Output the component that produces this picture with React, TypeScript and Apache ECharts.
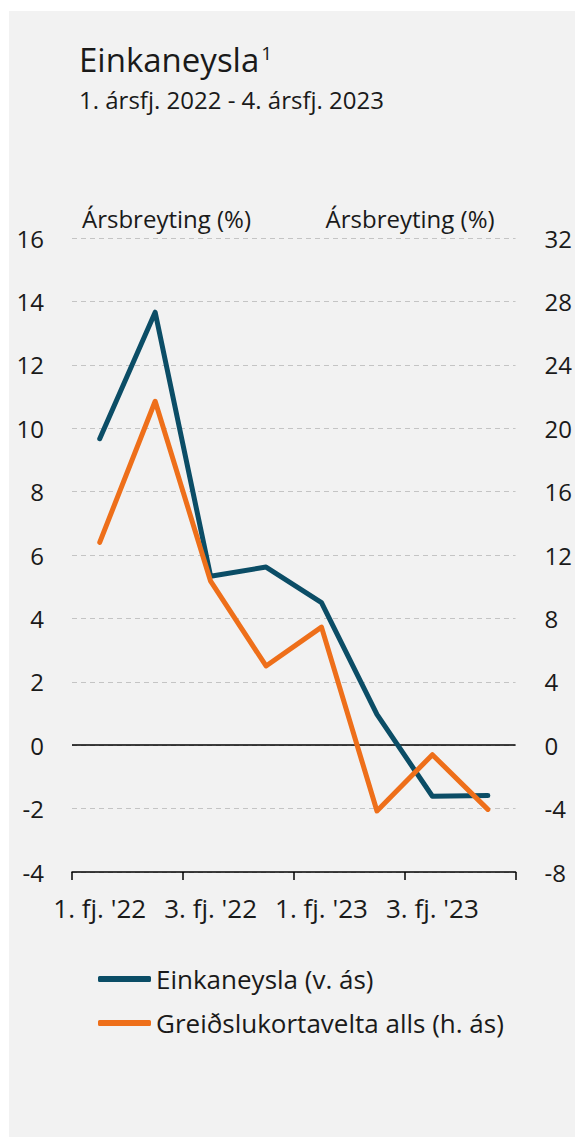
import React, { useEffect, useRef } from "react";
import * as echarts from "echarts";

const categories = ["1. fj. '22", "2. fj. '22", "3. fj. '22", "4. fj. '22", "1. fj. '23", "2. fj. '23", "3. fj. '23", "4. fj. '23"];
const einkaneysla = [9.67, 13.66, 5.33, 5.62, 4.5, 0.97, -1.61, -1.59];
const kortavelta = [12.8, 21.7, 10.35, 5.0, 7.45, -4.15, -0.6, -4.05];
const seriesNames = ["Einkaneysla (v. ás)", "Greiðslukortavelta alls (h. ás)"];
const axisName = "Ársbreyting (%)";
const titleText = "Einkaneysla";
const subtitleText = "1. ársfj. 2022 - 4. ársfj. 2023";

const FONT = "Open Sans";
const TXT = "#1a1a1a";
const DARK = "#0b4d66";
const ORANGE = "#ee6f1a";

export default function App() {
  const ref = useRef<HTMLDivElement>(null);
  useEffect(() => {
    if (!ref.current) return;
    const chart = echarts.init(ref.current, undefined, { renderer: "svg" });
    chart.setOption({
      animation: false,
      backgroundColor: "transparent",
      textStyle: { fontFamily: FONT },
      title: [
        {
          left: 74,
          top: 38,
          text: `{a|${titleText}}{b|1}`,
          textStyle: {
            fontWeight: "normal",
            rich: {
              a: { fontFamily: FONT, fontSize: 33, fontWeight: "normal", color: TXT },
              b: { fontFamily: FONT, fontSize: 19, fontWeight: "normal", color: TXT, verticalAlign: "top", padding: [0, 0, 14, 2] },
            },
          },
        },
        {
          left: 74,
          top: 82,
          text: subtitleText,
          textStyle: { fontFamily: FONT, fontSize: 24, fontWeight: "normal", color: TXT },
        },
      ],
      legend: {
        orient: "vertical",
        left: 93,
        top: 961,
        itemWidth: 53,
        itemHeight: 6,
        itemGap: 18,
        icon: "roundRect",
        textStyle: { fontFamily: FONT, fontSize: 26, color: TXT },
        data: seriesNames,
      },
      grid: { left: 72, right: 54, top: 238, bottom: 266, containLabel: false },
      xAxis: {
        type: "category",
        data: categories,
        boundaryGap: true,
        axisLine: { show: true, onZero: false, lineStyle: { color: "#000", width: 1.5 } },
        axisTick: { show: true, interval: 1, length: 8, lineStyle: { color: "#000", width: 1.5 } },
        axisLabel: { show: true, interval: 1, fontFamily: FONT, fontSize: 26, color: TXT, margin: 23 },
        splitLine: { show: false },
      },
      yAxis: [
        {
          type: "value",
          min: -4,
          max: 16,
          interval: 2,
          position: "left",
          name: axisName,
          nameLocation: "end",
          nameGap: 8,
          nameTextStyle: { fontFamily: FONT, fontSize: 24, color: TXT, align: "left", padding: [0, 0, 0, 10] },
          axisLine: { show: false },
          axisTick: { show: false },
          axisLabel: { fontFamily: FONT, fontSize: 24, color: TXT, margin: 28 },
          splitLine: { show: true, lineStyle: { color: "#c4c4c4", type: [5, 4], width: 1 } },
        },
        {
          type: "value",
          min: -8,
          max: 32,
          interval: 4,
          position: "right",
          name: axisName,
          nameLocation: "end",
          nameGap: 8,
          nameTextStyle: { fontFamily: FONT, fontSize: 24, color: TXT, align: "right", padding: [0, 21, 0, 0] },
          axisLine: { show: false },
          axisTick: { show: false },
          axisLabel: { fontFamily: FONT, fontSize: 24, color: TXT, margin: 29 },
          splitLine: { show: false },
        },
      ],
      series: [
        {
          name: seriesNames[0],
          type: "line",
          yAxisIndex: 0,
          data: einkaneysla,
          symbol: "none",
          color: DARK,
          z: 3,
          lineStyle: { color: DARK, width: 5, cap: "round", join: "round" },
          markLine: {
            silent: true,
            symbol: "none",
            label: { show: false },
            lineStyle: { color: "#000", type: "solid", width: 1.5 },
            data: [{ yAxis: 0 }],
            z: 1,
          },
        },
        {
          name: seriesNames[1],
          type: "line",
          yAxisIndex: 1,
          data: kortavelta,
          symbol: "none",
          color: ORANGE,
          z: 4,
          lineStyle: { color: ORANGE, width: 5, cap: "round", join: "round" },
        },
      ],
    });
    return () => chart.dispose();
  }, []);
  return (
    <div style={{ position: "absolute", left: 0, top: 0, width: 575, height: 1138, background: "#fff" }}>
      <div style={{ position: "absolute", left: 9, top: 11, width: 566, height: 1126, background: "#f2f2f2" }} />
      <div ref={ref} style={{ position: "absolute", left: 0, top: 0, width: 575, height: 1138 }} />
    </div>
  );
}
